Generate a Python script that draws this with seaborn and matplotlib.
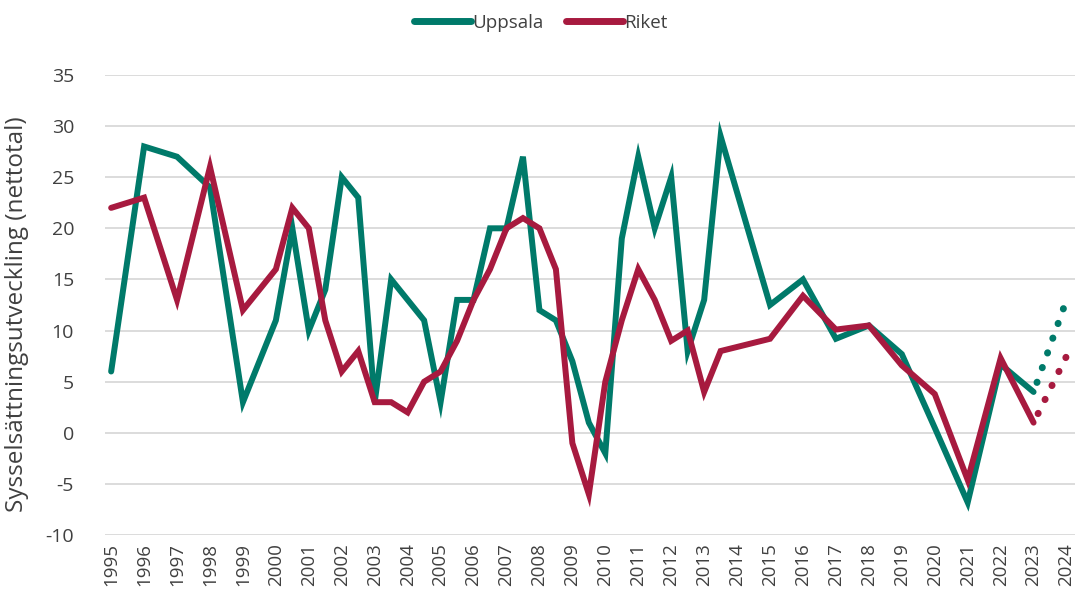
import matplotlib
matplotlib.use("Agg")
import matplotlib.pyplot as plt
import pandas as pd
import seaborn as sns

# Uppsala (green) and Riket (red), net balance per half year / year
uppsala_x = [1995, 1996, 1997, 1998, 1999, 2000, 2000.5, 2001, 2001.5, 2002, 2002.5,
             2003, 2003.5, 2004.5, 2005, 2005.5, 2006, 2006.5, 2007, 2007.5, 2008,
             2008.5, 2009, 2009.5, 2010, 2010.5, 2011, 2011.5, 2012, 2012.5, 2013,
             2013.5, 2015, 2016, 2017, 2018, 2019, 2020, 2021, 2022, 2023]
uppsala_y = [6, 28, 27, 24, 3, 11, 20, 10, 14, 25, 23,
             3, 15, 11, 3, 13, 13, 20, 20, 27, 12,
             11, 7, 1, -2, 19, 27, 20, 25, 8, 13,
             29, 12.5, 15, 9.2, 10.5, 7.7, 0.5, -6.8, 6.7, 4]

riket_x = [1995, 1996, 1997, 1998, 1999, 2000, 2000.5, 2001, 2001.5, 2002, 2002.5,
           2003, 2003.5, 2004, 2004.5, 2005, 2005.5, 2006, 2006.5, 2007, 2007.5,
           2008, 2008.5, 2009, 2009.5, 2010, 2010.5, 2011, 2011.5, 2012, 2012.5,
           2013, 2013.5, 2015, 2016, 2017, 2018, 2019, 2020, 2021, 2022, 2023]
riket_y = [22, 23, 13, 26, 12, 16, 22, 20, 11, 6, 8,
           3, 3, 2, 5, 6, 9, 13, 16, 20, 21,
           20, 16, -1, -6, 5, 11, 16, 13, 9, 10,
           4, 8, 9.2, 13.4, 10.1, 10.5, 6.6, 3.8, -4.6, 7.3, 1]

# forecast (dotted)
prog_x = [2023, 2024]
uppsala_prog = [4, 13]
riket_prog = [1, 7.5]

years = list(range(1995, 2025))

green = "#007A6A"
red = "#A71A3F"
text_col = "#404040"

sns.set_theme(style="white")
plt.rcParams["font.family"] = ["Open Sans", "DejaVu Sans"]
plt.rcParams["axes.unicode_minus"] = False

df_u = pd.DataFrame({"x": uppsala_x, "y": uppsala_y})
df_r = pd.DataFrame({"x": riket_x, "y": riket_y})

fig, ax = plt.subplots(figsize=(10.78, 6.04), dpi=100)
fig.subplots_adjust(left=0.097, right=0.997, top=0.876, bottom=0.114)

sns.lineplot(data=df_u, x="x", y="y", color=green, linewidth=4.3, label="Uppsala",
             ax=ax, solid_joinstyle="miter", solid_capstyle="round", sort=False)
sns.lineplot(data=df_r, x="x", y="y", color=red, linewidth=4.3, label="Riket",
             ax=ax, solid_joinstyle="miter", solid_capstyle="round", sort=False)

dot = (0.8, (0.05, 2.2))
ax.plot(prog_x, uppsala_prog, color=green, linewidth=5, linestyle=dot,
        dash_capstyle="round", zorder=1)
ax.plot(prog_x, riket_prog, color=red, linewidth=5, linestyle=dot,
        dash_capstyle="round", zorder=1)

ax.set_xlim(1994.8, 2024.25)
ax.set_ylim(-10, 35)
ax.set_yticks(range(-10, 40, 5))
ax.set_xticks(years)
ax.set_xticklabels([str(y) for y in years], rotation=90, fontsize=13.5, color=text_col)
ax.tick_params(axis="y", labelsize=14, labelcolor=text_col, length=0, pad=22)
ax.tick_params(axis="x", length=0, pad=6)
ax.grid(axis="y", color="#d9d9d9", linewidth=1.3)
ax.set_axisbelow(True)
for s in ax.spines.values():
    s.set_visible(False)

ax.set_xlabel("")
ax.set_ylabel("Sysselsättningsutveckling (nettotal)", fontsize=17.5, color=text_col)
ax.yaxis.set_label_coords(-0.078, 0.48)

leg = ax.legend(loc="upper center", bbox_to_anchor=(0.45, 1.17), ncol=2, frameon=False,
                fontsize=13.5, handlelength=3.0, handletextpad=0.1, columnspacing=1.2)
for t in leg.get_texts():
    t.set_color(text_col)
for h in leg.get_lines():
    h.set_linewidth(5)
    h.set_solid_capstyle("round")

fig.savefig("out.png", dpi=100)
